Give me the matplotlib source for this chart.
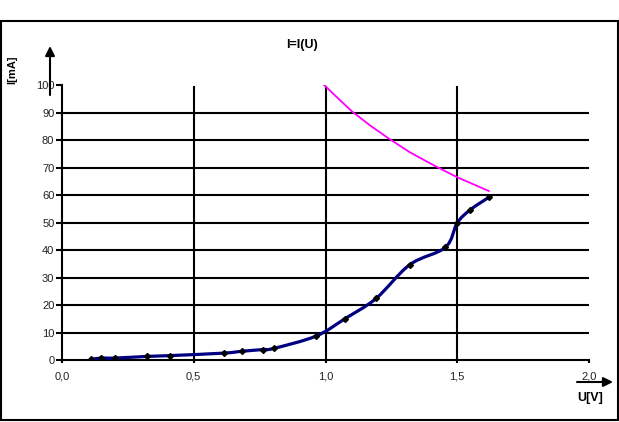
import matplotlib
matplotlib.use("Agg")
import matplotlib.pyplot as plt
from matplotlib.path import Path
from matplotlib.patches import PathPatch, Rectangle
import numpy as np

plt.rcParams['font.family'] = ['Liberation Sans', 'DejaVu Sans']

# Measured diode characteristic
U_meas = [0.109, 0.148, 0.201, 0.322, 0.410, 0.613, 0.685, 0.762, 0.803,
          0.964, 1.075, 1.192, 1.320, 1.455, 1.500, 1.550, 1.620]
I_meas = [0.2, 0.7, 0.7, 1.3, 1.6, 2.5, 3.2, 3.8, 4.2,
          8.7, 15.1, 22.4, 34.7, 41.0, 49.9, 54.7, 59.2]

# Power limit curve
U_lim = [0.99, 1.05, 1.10, 1.17, 1.24, 1.32, 1.41, 1.50, 1.56, 1.62]
I_lim = [100.5, 95.0, 90.5, 85.3, 80.6, 75.6, 70.9, 66.5, 64.0, 61.5]

x_ticks = [0.0, 0.5, 1.0, 1.5, 2.0]
x_ticklabels = ['0,0', '0,5', '1,0', '1,5', '2,0']
y_ticks = [0, 10, 20, 30, 40, 50, 60, 70, 80, 90, 100]

W, H = 619, 422
fig = plt.figure(figsize=(W / 100, H / 100), dpi=100)
ax = fig.add_axes([62 / W, (H - 360) / H, (589 - 62) / W, (360 - 85.2) / H])

ax.set_xlim(0, 2.0)
ax.set_ylim(0, 100)
for s in ['top', 'right']:
    ax.spines[s].set_visible(False)
for s in ['left', 'bottom']:
    ax.spines[s].set_linewidth(1.5)
    ax.spines[s].set_color('black')

ax.set_xticks(x_ticks)
ax.set_xticklabels(x_ticklabels)
ax.set_yticks(y_ticks)
ax.tick_params(axis='y', direction='out', length=4, width=1.5, labelsize=8,
               pad=1.5, labelcolor='#222222')
ax.tick_params(axis='x', direction='out', length=2.5, width=1.5, labelsize=8,
               pad=6, labelcolor='#222222')

# grid lines (skip the ones on the axes themselves)
for y in y_ticks[1:-1]:
    ax.axhline(y, color='black', lw=1.5, zorder=1)
for x in x_ticks[1:-1]:
    ax.plot([x, x], [0, 99.3], color='black', lw=1.5, zorder=1)

# smoothed measured curve (Catmull-Rom -> Bezier through the points)
pts = np.column_stack([U_meas, I_meas])
verts = [pts[0]]
codes = [Path.MOVETO]
n = len(pts)
for i in range(n - 1):
    p0 = pts[i - 1] if i > 0 else pts[i]
    p1 = pts[i]
    p2 = pts[i + 1]
    p3 = pts[i + 2] if i + 2 < n else pts[i + 1]
    c1 = p1 + (p2 - p0) / 6.0
    c2 = p2 - (p3 - p1) / 6.0
    verts += [c1, c2, p2]
    codes += [Path.CURVE4] * 3
patch = PathPatch(Path(verts, codes), facecolor='none', edgecolor='#000080',
                  lw=2.3, zorder=3, capstyle='round', joinstyle='round')
ax.add_patch(patch)
ax.plot(U_meas, I_meas, ls='none', marker='D', markersize=3.0,
        color='black', zorder=4)

ax.plot(U_lim, I_lim, color='#FF00FF', lw=1.3, zorder=3)

# titles
fig.text(302 / W, (H - 45) / H, 'I=I(U)', ha='center', va='center',
         fontsize=9, fontweight='bold')
fig.text(12.5 / W, (H - 70) / H, 'I[mA]', ha='center', va='center',
         rotation=90, fontsize=8, fontweight='bold')
fig.text(590 / W, (H - 398) / H, 'U[V]', ha='center', va='center',
         fontsize=9, fontweight='bold')

# axis arrows
ax.annotate('', xy=(50, H - 46), xytext=(50, H - 95), xycoords='figure pixels',
            textcoords='figure pixels',
            arrowprops=dict(arrowstyle='-|>', lw=1.5, color='black',
                            mutation_scale=14, shrinkA=0, shrinkB=0))
ax.annotate('', xy=(613, H - 382), xytext=(577, H - 382), xycoords='figure pixels',
            textcoords='figure pixels',
            arrowprops=dict(arrowstyle='-|>', lw=1.5, color='black',
                            mutation_scale=14, shrinkA=0, shrinkB=0))

# outer border
fig.patches.append(Rectangle((1.0 / W, 2.0 / H), (617.5 - 1.0) / W, (401 - 2.0) / H,
                             transform=fig.transFigure, fill=False,
                             edgecolor='black', lw=1.5))

fig.savefig('out.png', dpi=100)
